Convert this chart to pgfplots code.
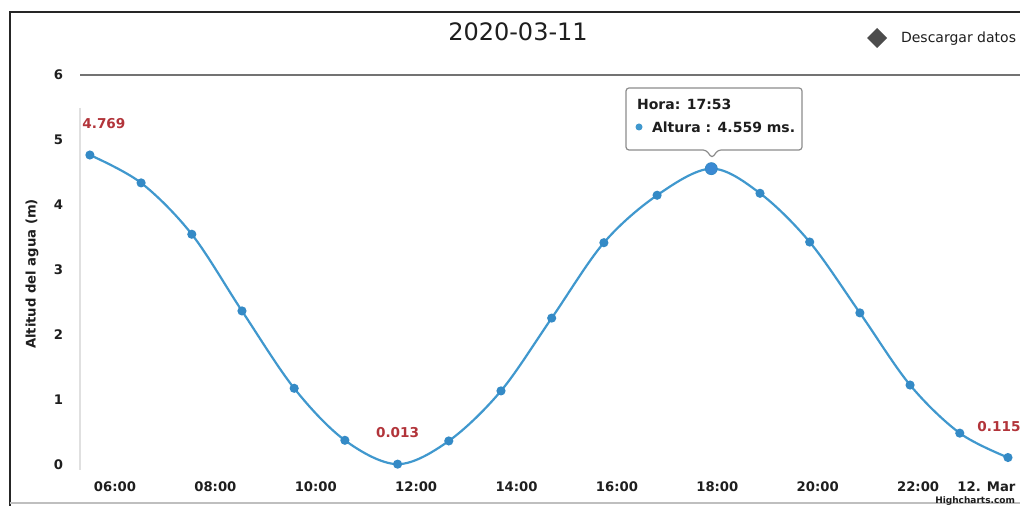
\documentclass[border=0pt]{standalone}
\usepackage{pgfplots}
\pgfplotsset{compat=1.18}
\usepackage{fontspec}
\setmainfont{DejaVu Sans}
\definecolor{hcblue}{RGB}{64,152,206}
\definecolor{hcmark}{RGB}{52,138,198}
\definecolor{lblred}{RGB}{178,52,58}
\definecolor{txt}{RGB}{30,30,30}
\pgfplotstableread{
t h
5.50 4.769
6.52 4.34
7.53 3.55
8.53 2.37
9.57 1.18
10.58 0.38
11.63 0.013
12.65 0.37
13.69 1.14
14.70 2.26
15.74 3.42
16.80 4.15
17.88 4.559
18.85 4.18
19.84 3.43
20.84 2.34
21.84 1.23
22.83 0.49
23.79 0.115
}\tide
\begin{document}
\begin{tikzpicture}[x=0.5pt,y=0.5pt]
\useasboundingbox (0,0) rectangle (1020,506);
\fill[white] (0,0) rectangle (1020,506);
% scan border
\draw[line width=1.4pt, black!85] (10,0) -- (10,506-12) -- (1020,506-12);
\draw[line width=0.6pt, black!25] (10,506-503) -- (1020,506-503);
\begin{axis}[
  at={(40pt,20.5pt)}, anchor=south west,
  scale only axis, width=470pt, height=195pt,
  xmin=5.303, xmax=24.03, ymin=0, ymax=6,
  clip=false,
  axis line style={draw=none},
  major tick length=0pt,
  /pgf/number format/assume math mode=true,
  xtick={6,8,10,12,14,16,18,20,22},
  xticklabels={06:00,08:00,10:00,12:00,14:00,16:00,18:00,20:00,22:00},
  extra x ticks={24},
  extra x tick labels={12. Mar},
  extra x tick style={xticklabel style={anchor=north east, xshift=2pt}},
  ytick={0,1,2,3,4,5},
  extra y ticks={6},
  extra y tick labels={6},
  extra y tick style={ymajorgrids=true, major grid style={black!55, line width=0.7pt}},
  tick label style={font=\fontsize{6.6}{7}\selectfont\bfseries, text=txt},
  xticklabel style={yshift=-5pt},
  yticklabel style={xshift=-5pt},
  every node near coord/.style={font=\fontsize{6.8}{7}\selectfont\bfseries, text=lblred, anchor=south, yshift=9.5pt},
]
\addplot[hcblue, line width=1.1pt, smooth, tension=0.55,
  mark=*, mark size=1.7pt, mark options={fill=hcmark, draw=hcmark}]
  table[x=t, y=h] {\tide};
\addplot[only marks, mark=*, mark size=3pt, hcmark, mark options={fill=hcblue!90!blue, draw=hcmark}]
  coordinates {(17.88,4.559)};
\addplot[draw=none, mark=none, nodes near coords, point meta=explicit symbolic,
  nodes near coords style={xshift=7pt}]
  coordinates {(5.50,4.769) [4.769]};
\addplot[draw=none, mark=none, nodes near coords, point meta=explicit symbolic]
  coordinates {(11.63,0.013) [0.013]};
\addplot[draw=none, mark=none, nodes near coords, point meta=explicit symbolic,
  nodes near coords style={xshift=-4.5pt}]
  coordinates {(23.79,0.115) [0.115]};
\end{axis}
% faint left axis line
\draw[black!12, line width=0.6pt] (80,506-108) -- (80,506-470);
% title
\node[font=\fontsize{12}{14}\selectfont, text=txt] at (518,506-32) {2020-03-11};
% download button
\fill[black!70] (877,506-28) -- (887,506-38) -- (877,506-48) -- (867,506-38) -- cycle;
\node[font=\fontsize{7}{8}\selectfont, text=txt, anchor=west] at (894,506-39) {Descargar datos};
% tooltip
\draw[black!45, line width=0.6pt, fill=white, rounded corners=1.5pt]
  (626,506-88) -- (802,506-88) -- (802,506-150) -- (718,506-150) -- (712,506-158) -- (706,506-150) -- (626,506-150) -- cycle;
\node[font=\fontsize{7}{8}\selectfont\bfseries, text=txt, anchor=west] at (630,506-104) {Hora: 17:53};
\fill[hcblue] (639,506-127) circle (3.5);
\node[font=\fontsize{7}{8}\selectfont\bfseries, text=txt, anchor=west] at (645,506-127) {Altura : 4.559 ms.};
% y label
\node[rotate=90, font=\fontsize{6.6}{7}\selectfont\bfseries, text=txt] at (32,506-274) {Altitud del agua (m)};
% credits
\node[font=\fontsize{4.5}{5}\selectfont\bfseries, text=txt, anchor=east] at (1022,506-501) {Highcharts.com};
\end{tikzpicture}
\end{document}
